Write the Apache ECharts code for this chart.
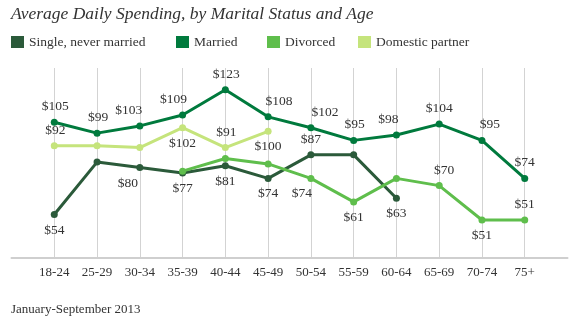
<!DOCTYPE html>
<html>
<head>
<meta charset="utf-8">
<script src="https://cdn.jsdelivr.net/npm/echarts@6/dist/echarts.min.js"></script>
<style>
html,body{margin:0;padding:0;background:#fff;}
#chart{width:575px;height:326px;}
</style>
</head>
<body>
<div id="chart"></div>
<script>
// ---- data ----
const categories = ['18-24','25-29','30-34','35-39','40-44','45-49','50-54','55-59','60-64','65-69','70-74','75+'];
const seriesNames = ['Single, never married','Married','Divorced','Domestic partner'];
const single   = [54, 83, 80, 77, 81, 74, 87, 87, 63, null, null, null];
const married  = [105, 99, 103, 109, 123, 108, 102, 95, 98, 104, 95, 74];
const divorced = [null, null, null, 78, 85, 82, 74, 61, 74, 70, 51, 51];
const domestic = [92, 92, 91, 102, 91, 100, null, null, null, null, null, null];

// ---- label placement (style only) ----
const singleLabelPos   = ['bottom', null, 'bottom', 'bottom', 'bottom', 'bottom', 'top', null, 'bottom', null, null, null];
const singleLabelDx    = [0, 0, -12, 0, 0, 0, 0, 0, 0, 0, 0, 0];
const marriedLabelPos  = ['top','top','top','top','top','top','top','top','top','top','top','top'];
const marriedLabelDx   = [1, 1, -11, -9, 1, 11, 14, 1, -8, 0, 8, 0];
const divorcedLabelPos = [null, null, null, null, null, null, 'bottom', 'bottom', null, 'top', 'bottom', 'top'];
const divorcedLabelDx  = [0, 0, 0, 0, 0, 0, -9, 0, 0, 5, 0, 0];
const domesticLabelPos = ['top', null, null, 'bottom', 'top', 'bottom', null, null, null, null, null, null];
const domesticLabelDx  = [1, 0, 0, 0, 1, 0, 0, 0, 0, 0, 0, 0];

const colors = ['#2b5a3a', '#007a3d', '#5fbe4c', '#c5e47c'];
const legendLefts = [11, 176, 267, 358];
const FONT = '"Liberation Serif", "Times New Roman", serif';

const paddedCats = [''].concat(categories, ['']);

function buildData(values, pos, dx) {
  const out = [null];
  values.forEach((v, i) => {
    if (v === null) { out.push(null); return; }
    const item = { value: v };
    if (pos[i]) {
      item.label = { show: true, position: pos[i], offset: [dx[i], 0] };
    } else {
      item.label = { show: false };
    }
    out.push(item);
  });
  out.push(null);
  return out;
}

function mkSeries(name, values, pos, dx, color) {
  return {
    name: name,
    type: 'line',
    data: buildData(values, pos, dx),
    symbol: 'circle',
    symbolSize: 7,
    connectNulls: false,
    lineStyle: { color: color, width: 3 },
    itemStyle: { color: color, borderWidth: 0 },
    label: {
      show: true,
      formatter: p => '$' + p.value,
      fontFamily: FONT,
      fontSize: 13.5,
      color: '#333',
      distance: 5
    },
    emphasis: { disabled: true }
  };
}

const chart = echarts.init(document.getElementById('chart'), null, { renderer: 'canvas' });
chart.setOption({
  animation: false,
  backgroundColor: '#fff',
  color: colors,
  title: {
    text: 'Average Daily Spending, by Marital Status and Age',
    left: 11,
    top: 5,
    padding: 0,
    textStyle: { fontFamily: FONT, fontStyle: 'italic', fontWeight: 'normal', fontSize: 17.5, color: '#333' }
  },
  legend: seriesNames.map((n, i) => ({
    left: legendLefts[i],
    top: 35,
    padding: 0,
    icon: 'rect',
    itemWidth: 13,
    itemHeight: 12,
    data: [n],
    textStyle: { fontFamily: FONT, fontSize: 13.5, color: '#333' }
  })),
  grid: { left: 11.5, right: 7.5, top: 68, bottom: 68, containLabel: false },
  xAxis: {
    type: 'category',
    data: paddedCats,
    boundaryGap: false,
    axisLine: { show: true, lineStyle: { color: '#cfcfcf', width: 2 } },
    axisTick: { show: false },
    axisLabel: { interval: 0, margin: 8, fontFamily: FONT, fontSize: 13, color: '#333' },
    splitLine: {
      show: true,
      interval: (i) => i > 0 && i < paddedCats.length - 1,
      lineStyle: { color: '#d3d3d3', width: 1 }
    }
  },
  yAxis: {
    type: 'value',
    min: 30,
    max: 135,
    show: false,
    splitLine: { show: false }
  },
  series: [
    mkSeries(seriesNames[0], single, singleLabelPos, singleLabelDx, colors[0]),
    mkSeries(seriesNames[1], married, marriedLabelPos, marriedLabelDx, colors[1]),
    mkSeries(seriesNames[2], divorced, divorcedLabelPos, divorcedLabelDx, colors[2]),
    mkSeries(seriesNames[3], domestic, domesticLabelPos, domesticLabelDx, colors[3])
  ],
  graphic: [{
    type: 'text',
    left: 11,
    top: 303,
    style: { text: 'January-September 2013', font: '13px ' + FONT, fill: '#333' }
  }]
});
</script>
</body>
</html>
